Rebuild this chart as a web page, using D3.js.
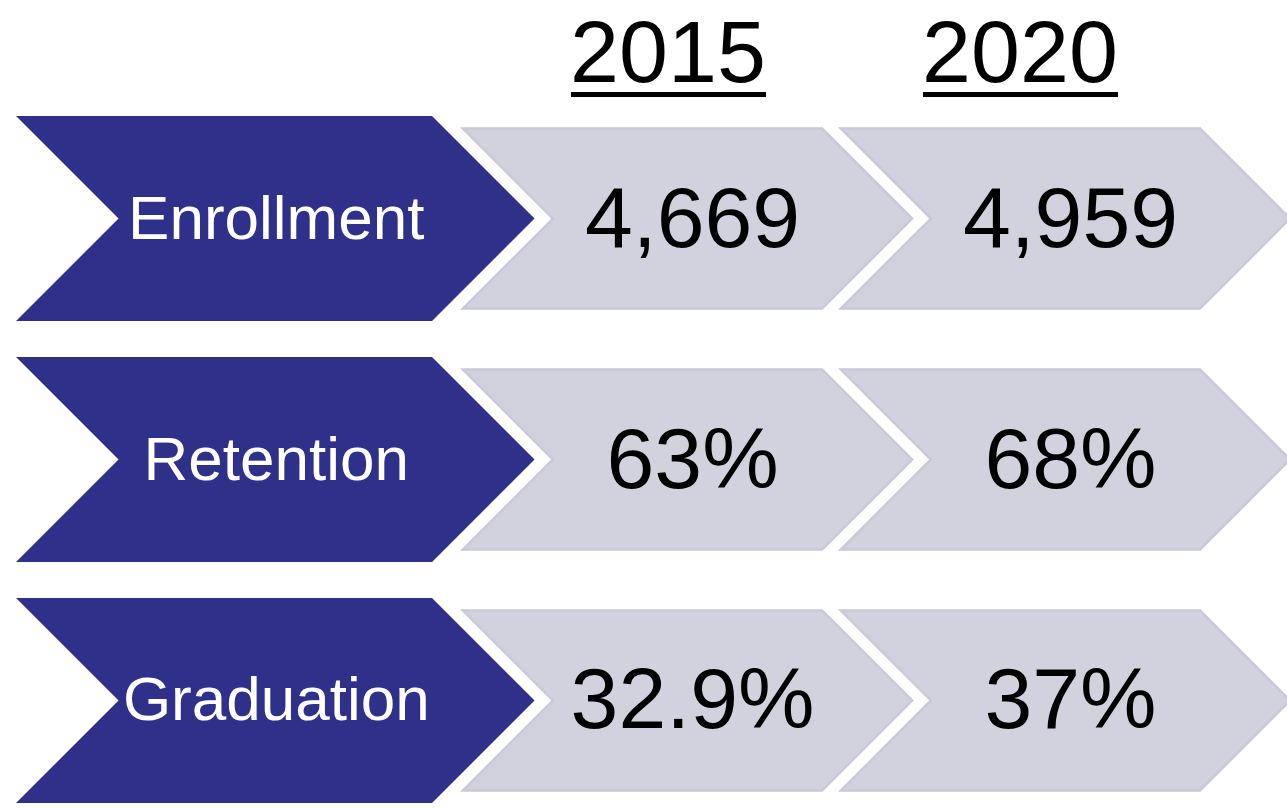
<!DOCTYPE html>
<html>
<head>
<meta charset="utf-8">
<script src="https://cdn.jsdelivr.net/npm/d3@7"></script>
<style>
  html, body { margin: 0; padding: 0; background: #fff; }
  text { font-family: "Liberation Sans", Arial, sans-serif; }
</style>
</head>
<body>
<div id="chart"><svg></svg></div>
<script>
const CATEGORIES = ['Enrollment', 'Retention', 'Graduation'];
const YEARS = ['2015', '2020'];
const VALUES_2015 = [4669, 63, 32.9];
const VALUES_2020 = [4959, 68, 37];
const UNITS = ['', '%', '%'];

const WIDTH = 1287;
const HEIGHT = 808;
const NAVY = '#2e3089';
const GRAY = '#d2d2de';

const svg = d3.select('#chart')
              .select('svg')
              .attr('width', WIDTH)
              .attr('height', HEIGHT);

const yScale = d3.scaleBand().domain(CATEGORIES).range([116, 803]).paddingInner(0.149);
const xScale = d3.scaleBand().domain(YEARS).range([463, 1200]).paddingInner(0.05);
// headers sit a bit off the column centres
const headerScale = d3.scalePoint().domain(YEARS).range([668, 1020]);

const labelLeft = 16;
const labelRight = 432;
const grayInset = 12.5;

const fmt = (v, i) => (i === 0 ? d3.format(',')(v) : v + UNITS[i]);

// chevron path: x0 left, x1 end of body, y0 top, h height
const chevron = (x0, x1, y0, h) => {
  const d = h / 2;
  const p = d3.path();
  p.moveTo(x0, y0);
  p.lineTo(x1, y0);
  p.lineTo(x1 + d, y0 + d);
  p.lineTo(x1, y0 + h);
  p.lineTo(x0, y0 + h);
  p.lineTo(x0 + d, y0 + d);
  p.closePath();
  return p.toString();
};

// headers
const headers = svg.append('g');
headers.selectAll('text')
  .data(YEARS)
  .enter()
  .append('text')
  .attr('x', d => headerScale(d))
  .attr('y', 82)
  .attr('text-anchor', 'middle')
  .attr('font-size', 88)
  .attr('fill', '#000')
  .text(d => d);

headers.selectAll('rect')
  .data(YEARS)
  .enter()
  .append('rect')
  .attr('x', d => headerScale(d) - 97)
  .attr('y', 92)
  .attr('width', 195)
  .attr('height', 5)
  .attr('fill', '#000');

const rows = svg.selectAll('.row')
  .data(CATEGORIES)
  .enter()
  .append('g')
  .classed('row', true);

// value cells
const cells = [];
CATEGORIES.forEach((c, i) => {
  cells.push({ cat: c, year: YEARS[0], value: VALUES_2015[i], idx: i });
  cells.push({ cat: c, year: YEARS[1], value: VALUES_2020[i], idx: i });
});

const cellG = svg.selectAll('.cell')
  .data(cells)
  .enter()
  .append('g')
  .classed('cell', true);

cellG.append('path')
  .attr('d', d => chevron(xScale(d.year), xScale(d.year) + xScale.bandwidth(),
                          yScale(d.cat) + grayInset, yScale.bandwidth() - grayInset * 2))
  .attr('fill', GRAY)
  .attr('stroke', '#c9c9d7')
  .attr('stroke-width', 2.5)
  .attr('stroke-linejoin', 'miter');

cellG.append('text')
  .attr('x', d => xScale(d.year) + (xScale.bandwidth() + (yScale.bandwidth() - grayInset * 2) / 2) / 2 + 5)
  .attr('y', d => yScale(d.cat) + yScale.bandwidth() / 2 + 28)
  .attr('text-anchor', 'middle')
  .attr('font-size', 86)
  .attr('fill', '#000')
  .text(d => fmt(d.value, d.idx));

// category chevrons
rows.append('path')
  .attr('d', d => chevron(labelLeft, labelRight, yScale(d), yScale.bandwidth()))
  .attr('fill', NAVY);

rows.append('text')
  .attr('x', (labelLeft + labelRight + yScale.bandwidth() / 2) / 2 + 1)
  .attr('y', d => yScale(d) + yScale.bandwidth() / 2 + 20)
  .attr('text-anchor', 'middle')
  .attr('font-size', 62)
  .attr('fill', '#fff')
  .text(d => d);
</script>
</body>
</html>
